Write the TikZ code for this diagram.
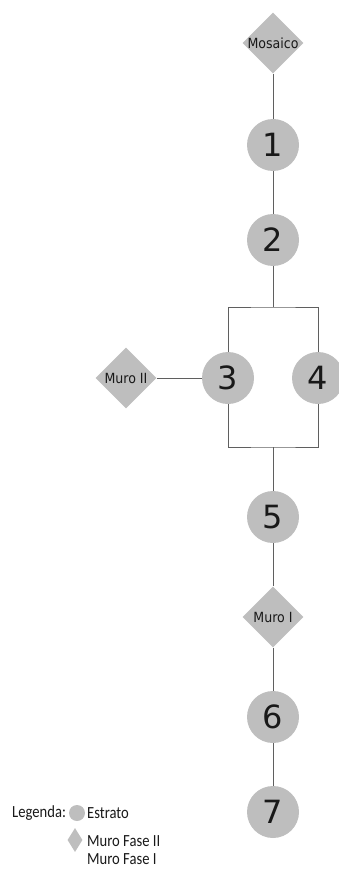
\documentclass[tikz,border=0pt]{standalone}
\usepackage{fontspec}
\setmainfont{DejaVu Sans}
\newfontfamily\legfont[FakeStretch=0.86]{Carlito}
\newfontfamily\condfont{DejaVu Sans Condensed}
\usetikzlibrary{shapes.geometric, positioning}
\definecolor{stratgray}{RGB}{190,190,190}
\definecolor{edgegray}{RGB}{95,95,95}
\definecolor{txtgray}{RGB}{25,25,25}
\tikzstyle{strat}=[circle, fill=stratgray, inner sep=0pt, minimum size=52pt, text=txtgray, font=\fontsize{32}{35}\selectfont]
\tikzstyle{link}=[draw=edgegray, line width=0.9pt]
\tikzstyle{leg}=[inner sep=0pt, anchor=west, text=txtgray, font=\legfont\fontsize{17}{19}\selectfont]
\tikzset{wall/.style={diamond, fill=stratgray, inner sep=0pt, minimum size=61pt,
  label={[text=txtgray, font=\condfont\fontsize{14}{16}\selectfont]center:#1}}}

\begin{document}
\begin{tikzpicture}[x=1pt, y=-1pt]
\useasboundingbox (0,0) rectangle (339,877);
\clip (0,0) rectangle (339,877);
\node[wall=Mosaico] (mos) at (273,43) {};
\node[strat] (s1) at (273,145) {1};
\node[strat] (s2) at (273,240) {2};
\node[strat] (s3) at (228,378) {3};
\node[strat] (s4) at (318,378) {4};
\node[wall=Muro II] (mII) at (126,378) {};
\node[strat] (s5) at (273,517) {5};
\node[wall=Muro I] (mI) at (273,617) {};
\node[strat] (s6) at (273,717) {6};
\node[strat] (s7) at (273,812) {7};
\coordinate (top) at (273,307);
\coordinate (bot) at (273,447);
%
\draw[link] (mos) -- (s1) -- (s2) -- (top);
\draw[link] (s3) |- (top) -| (s4);
\draw[link] (s3) |- (bot) -| (s4);
\draw[link] (bot) -- (s5) -- (mI) -- (s6) -- (s7);
\draw[link] (mII) -- (s3);
%
\node[leg] (legt) at (12,813) {Legenda:};
\node[circle, fill=stratgray, inner sep=0pt, minimum size=16pt] (legc) at (77,813) {};
\node[diamond, fill=stratgray, inner sep=0pt, minimum width=15pt, minimum height=24pt] (legd) at (75,840) {};
\node[leg] (est) at (87,813) {Estrato};
\node[leg] (fII) at (87,841) {Muro Fase II};
\node[leg] (fI) at (87,859) {Muro Fase I};
\end{tikzpicture}
\end{document}
